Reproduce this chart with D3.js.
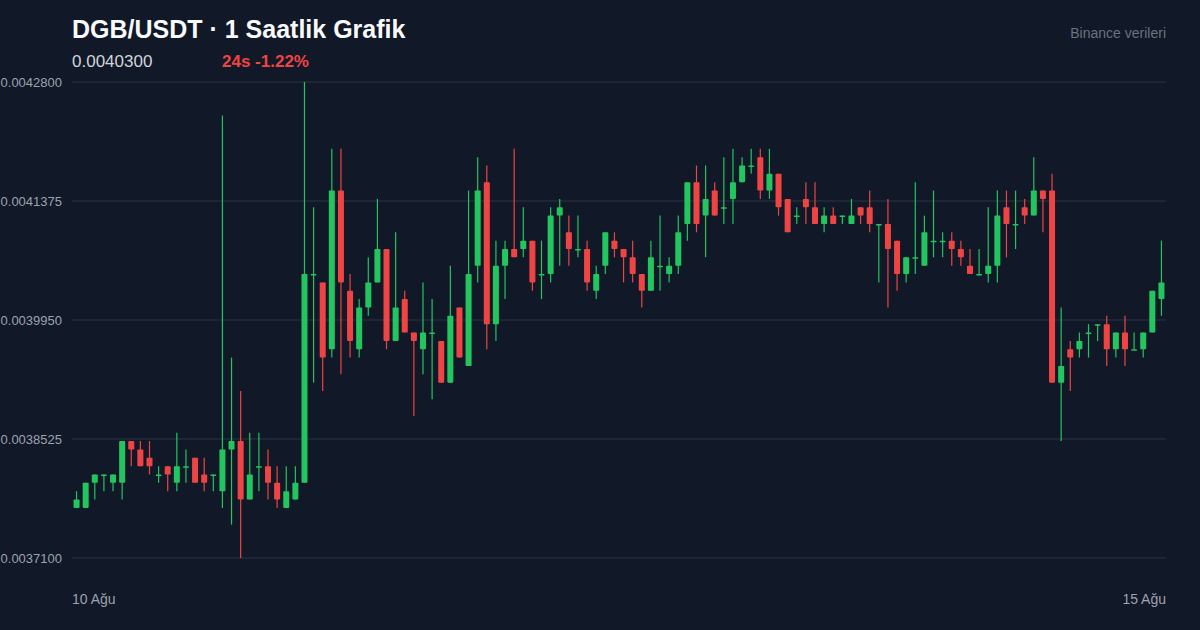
<!DOCTYPE html>
<html><head><meta charset="utf-8">
<script src="https://cdn.jsdelivr.net/npm/d3@7"></script>
<style>body{margin:0;background:#111827;}svg{display:block;font-family:"Liberation Sans",Arial,sans-serif;}</style>
</head><body><svg id="c" width="1200" height="630"></svg>
<script>
// Prices in units of 0.00001 USDT, one candle per hour
const open  = [377,377,380,381,380,380,385,384,383,381,382,380,382,383,381,381,379,384,385,378,
               382,382,380,377,378,380,405,404,396,415,403,396,401,404,408,397,402,398,396,398,
               397,392,401,394,406,416,399,406,408,408,409,405,405,412,410,408,408,403,406,409,
               408,407,405,403,406,405,406,411,416,412,415,413,414,416,418,419,415,417,414,412,
               414,413,411,412,412,411,413,413,411,411,409,405,407,406,409,409,409,408,406,405,
               405,406,413,411,413,412,415,415,392,396,396,398,399,399,396,398,396,396,398,402];
const close = [378,380,381,381,381,385,384,382,382,381,381,382,382,380,380,381,384,385,378,381,
               382,380,378,379,380,405,405,395,415,404,397,401,404,408,397,401,398,397,398,398,
               392,400,395,405,415,399,406,408,407,409,404,405,412,413,408,408,404,405,410,408,
               407,405,403,407,406,406,410,416,411,414,412,413,416,418,418,415,417,413,410,412,
               413,411,412,411,412,412,412,411,411,408,405,407,407,410,409,409,408,407,405,405,
               406,412,411,411,412,415,414,392,394,395,397,398,399,396,398,396,396,398,403,404];
const high  = [379,380,381,381,381,385,385,385,385,382,382,386,384,383,383,381,424,395,391,386,
               386,384,382,382,382,428,413,404,420,420,405,402,407,414,408,410,403,398,404,402,
               397,406,401,415,419,418,409,409,420,413,409,409,413,414,412,412,409,406,410,410,
               408,409,405,409,412,407,412,416,418,418,416,419,420,419,420,420,420,417,414,413,
               416,416,413,413,412,414,413,415,411,414,409,407,416,412,415,410,410,409,408,408,
               413,415,415,415,414,419,415,417,401,397,398,399,399,400,398,400,398,398,403,409];
const low   = [377,377,378,379,379,378,382,382,381,380,379,379,380,380,379,379,377,375,371,378,
               379,378,377,377,378,380,392,391,395,393,395,395,400,404,396,397,398,388,393,390,
               392,392,395,394,404,396,397,402,407,407,403,402,404,406,406,407,403,402,405,407,
               404,404,401,403,403,404,405,409,410,407,412,411,411,416,417,414,414,412,410,411,
               411,411,410,411,411,411,411,410,404,401,403,404,405,406,407,407,406,406,405,405,
               404,404,407,408,411,412,410,392,385,391,395,395,397,394,395,394,396,395,398,400];
const yTicks = [371, 385.25, 399.5, 413.75, 428];
const xLabels = ["10 Ağu", "15 Ağu"];

const svg = d3.select("#c");
const L = 72, R = 1166, T = 82, B = 558;
const idx = d3.range(open.length);
const x = d3.scaleBand().domain(idx).range([L, R]).paddingInner(0.34).paddingOuter(0.17);
const y = d3.scaleLinear().domain([371, 428]).range([B, T]);
const fmt = v => (v / 1e5).toFixed(7);

svg.append("g").selectAll("line").data(yTicks).join("line")
  .attr("x1", L).attr("x2", R).attr("y1", d => y(d)).attr("y2", d => y(d))
  .attr("stroke", "#222b3a").attr("stroke-width", 1.3);
svg.append("g").selectAll("text").data(yTicks).join("text")
  .attr("x", 62).attr("y", d => y(d) + 4.5).attr("text-anchor", "end")
  .attr("fill", "#9ca3af").attr("font-size", 13).text(fmt);

const col = i => close[i] >= open[i] ? "#22c55e" : "#ef4444";
const g = svg.append("g");
g.selectAll("line").data(idx).join("line")
  .attr("x1", i => x(i) + x.bandwidth() / 2).attr("x2", i => x(i) + x.bandwidth() / 2)
  .attr("y1", i => y(high[i])).attr("y2", i => y(low[i]))
  .attr("stroke", col).attr("stroke-width", 1.2);
g.selectAll("rect").data(idx).join("rect")
  .attr("x", i => x(i)).attr("width", x.bandwidth())
  .attr("y", i => y(Math.max(open[i], close[i])))
  .attr("height", i => Math.max(1.5, Math.abs(y(open[i]) - y(close[i]))))
  .attr("fill", col).attr("rx", 0.8);

svg.append("text").attr("x", L).attr("y", 599 + 5).attr("fill", "#9ca3af").attr("font-size", 14).text(xLabels[0]);
svg.append("text").attr("x", R).attr("y", 599 + 5).attr("text-anchor", "end").attr("fill", "#9ca3af").attr("font-size", 14).text(xLabels[1]);

svg.append("text").attr("x", L).attr("y", 38).attr("fill", "#f9fafb").attr("font-size", 25).attr("font-weight", "bold").text("DGB/USDT · 1 Saatlik Grafik");
svg.append("text").attr("x", L).attr("y", 67).attr("fill", "#d1d5db").attr("font-size", 17).text("0.0040300");
svg.append("text").attr("x", 222).attr("y", 67).attr("fill", "#ef4444").attr("font-size", 17).attr("font-weight", "bold").text("24s -1.22%");
svg.append("text").attr("x", R).attr("y", 38).attr("text-anchor", "end").attr("fill", "#6b7280").attr("font-size", 14).text("Binance verileri");
</script></body></html>
